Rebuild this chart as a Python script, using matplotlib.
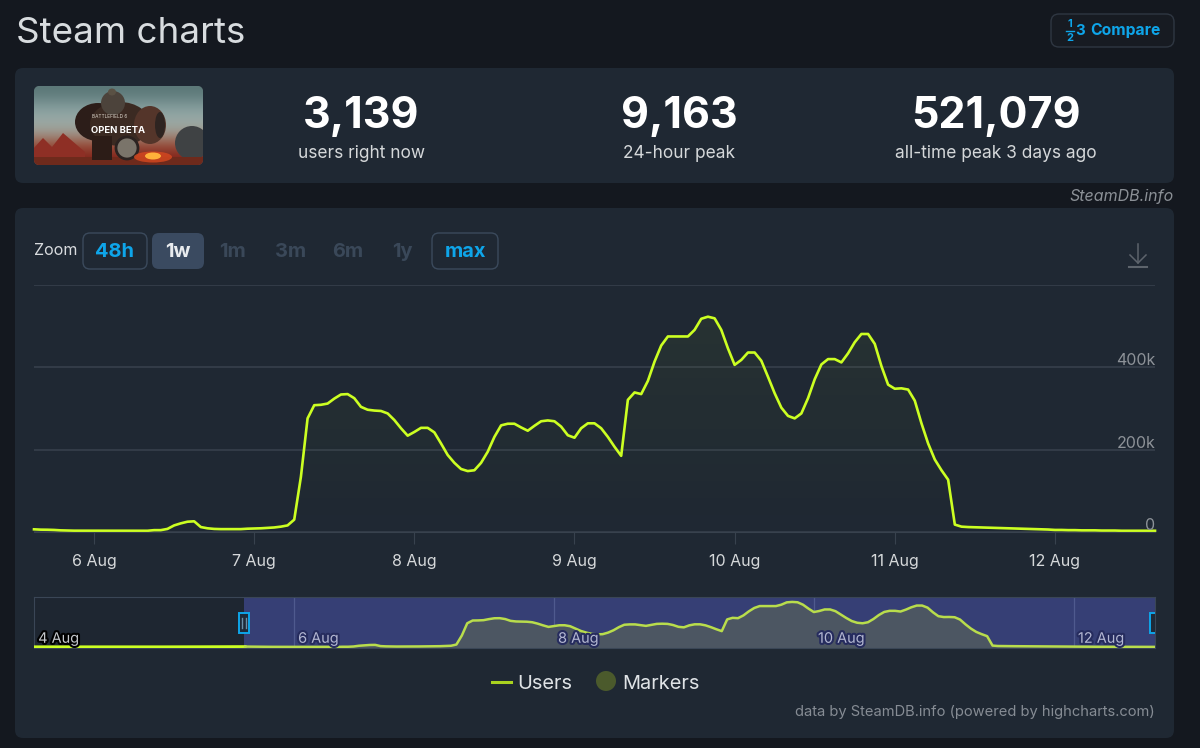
import numpy as np
import matplotlib
matplotlib.use('Agg')
import matplotlib.pyplot as plt
import matplotlib.patheffects as pe
from matplotlib.colors import to_rgb
from matplotlib.patches import FancyBboxPatch, Rectangle, Polygon, Ellipse, Circle

plt.rcParams['font.family'] = ['Inter', 'DejaVu Sans']

# users in thousands, one value per hour, first hour is 9 hours before 6 Aug
first_hour = -9
users = [6.5, 5.7, 5.5, 5, 4, 3.5, 3.2, 3.2, 3.2, 3.2, 3.2, 3.2, 3.2, 3.2, 3, 3, 3, 3,
         4.5, 4.5, 7.5, 16, 21, 25, 26, 12, 9, 7.5, 7, 7, 7, 7, 8, 8.5, 9, 10, 11, 13, 16, 30,
         134, 276, 308, 309, 312, 324, 334, 335, 325, 304, 297, 295, 294, 288, 272, 252, 234,
         243, 253, 253, 242, 215, 187, 168, 153, 148, 150, 168, 195, 231, 259, 263, 263, 254,
         246, 258, 269, 271, 269, 256, 235, 229, 252, 264, 264, 252, 231, 207, 185, 321, 339,
         335, 367, 414, 453, 475, 475, 475, 475, 491, 518, 523, 519, 491, 446, 406, 418, 436,
         436, 416, 377, 337, 302, 282, 276, 288, 325, 371, 407, 420, 420, 412, 434, 461, 481,
         481, 457, 403, 358, 348, 349, 346, 319, 264, 215, 176, 150, 127, 18, 13, 12, 11.5, 11,
         10.5, 10, 9.5, 9, 8.5, 8, 7.5, 7, 6.5, 6, 5, 5, 4.5, 4.5, 4, 4, 4, 3.5, 3.5, 3.5, 3,
         3, 3, 3, 3, 3]
# the navigator also shows the days before the zoomed range
early_days = [4.0, 4.5, 5.0, 5.3]
early_users = [4, 4, 4, 5]

day_ticks = [6, 7, 8, 9, 10, 11, 12]
day_labels = ['6 Aug', '7 Aug', '8 Aug', '9 Aug', '10 Aug', '11 Aug', '12 Aug']
y_ticks = [0, 200, 400, 600]
y_labels = {0: '0', 200: '200k', 400: '400k'}
nav_ticks = [4, 6, 8, 10, 12]
nav_labels = ['4 Aug', '6 Aug', '8 Aug', '10 Aug', '12 Aug']

stat_values = ['3,139', '9,163', '521,079']
stat_captions = ['users right now', '24-hour peak', 'all-time peak 3 days ago']
stat_x = [361, 679, 996]
zoom_buttons = ['1m', '3m', '6m', '1y']
zoom_x = [233, 291, 348, 402]

BG = '#14181f'
CARD = '#1f2833'
BLUE = '#0ea5e9'
LIME = '#ccff22'
GRID = '#38424e'
W, H = 1200, 748

days = 6 + (first_hour + np.arange(len(users))) / 24

fig = plt.figure(figsize=(12, 7.48), dpi=100, facecolor=BG)


def px_axes(x0, y0, x1, y1):
    return fig.add_axes([x0 / W, 1 - y1 / H, (x1 - x0) / W, (y1 - y0) / H])


def box(x0, y0, x1, y1, r=8, **kw):
    p = FancyBboxPatch((x0 + r, y0 + r), x1 - x0 - 2 * r, y1 - y0 - 2 * r,
                       boxstyle='round,pad=%d,rounding_size=%d' % (r, r), **kw)
    page.add_patch(p)
    return p


def px(size):
    return size * 0.72


# page layer in pixel coordinates
page = fig.add_axes([0, 0, 1, 1])
page.set_xlim(0, W)
page.set_ylim(H, 0)
page.axis('off')

page.text(16, 33, 'Steam charts', color='#d8dcdf', fontsize=px(36.8), va='center')
box(1051, 14, 1174, 47, lw=1, fc='#171b22', ec='#2f3742')
page.text(1090, 30.5, 'Compare', color=BLUE, fontsize=px(15.7), va='center', fontweight='bold')
page.text(1070, 23.5, '1', color=BLUE, fontsize=px(11), ha='center', va='center', fontweight='bold')
page.text(1070, 37.5, '2', color=BLUE, fontsize=px(11), ha='center', va='center', fontweight='bold')
page.text(1080.5, 30.5, '3', color=BLUE, fontsize=px(15), ha='center', va='center', fontweight='bold')
page.plot([1066, 1074], [30.5, 30.5], color=BLUE, lw=1)

box(15, 68, 1174, 183, fc=CARD, ec='none')
box(15, 208, 1174, 738, fc=CARD, ec='none')
page.text(1174, 196, 'SteamDB.info', color='#8b9096', fontsize=px(16), ha='right', va='center', style='italic')

# game banner, drawn roughly
clip = box(34, 86, 203, 165, r=6, fc='#5f7a7a', ec='none')
sky = np.array([[0.36, 0.47, 0.47], [0.50, 0.60, 0.60], [0.60, 0.67, 0.66], [0.62, 0.62, 0.58],
                [0.60, 0.30, 0.22], [0.50, 0.13, 0.10]])[:, None, :]
im = page.imshow(sky, extent=(34, 203, 165, 86), aspect='auto', interpolation='bicubic', zorder=2)
im.set_clip_path(clip)
banner = [Polygon([(34, 148), (43, 138), (52, 147), (63, 133), (85, 152), (85, 165), (34, 165)], fc='#8e2f25'),
          Ellipse((192, 143), 34, 34, fc='#3f4244'),
          Rectangle((34, 157), 169, 8, fc='#6e2a1c'),
          Ellipse((98, 122), 46, 38, fc='#2c1d19'),
          Ellipse((120, 124), 60, 44, fc='#3b2a22'),
          Ellipse((113, 103), 24, 24, fc='#4c433b'),
          Ellipse((112, 92), 8, 7, fc='#5a5144'),
          Ellipse((150, 125), 32, 38, fc='#54352a'),
          Ellipse((160, 125), 10, 26, fc='#2e2421'),
          Rectangle((92, 136), 20, 24, fc='#2c1c17'),
          Circle((127, 148), 11, fc='#7a746a', ec='#2b2220', lw=2),
          Ellipse((153, 157), 38, 11, fc='#d8491f', alpha=0.8),
          Ellipse((153, 156), 16, 7, fc='#ffb13a')]
for p in banner:
    p.set_zorder(3)
    page.add_patch(p)
    p.set_clip_path(clip)
page.text(110, 116, 'BATTLEFIELD 6', color='#d8d2c8', fontsize=px(4.8), ha='center', va='center', zorder=4)
page.text(118, 130, 'OPEN BETA', color='white', fontsize=px(9.5), ha='center', va='center', zorder=4, fontweight='bold')
page.set_xlim(0, W)
page.set_ylim(H, 0)

for v, c, x in zip(stat_values, stat_captions, stat_x):
    page.text(x, 116, v, color='white', fontsize=px(43), ha='center', va='center', fontweight='bold')
    page.text(x, 153, c, color='#d5d8da', fontsize=px(17.3), ha='center', va='center')

# zoom buttons
page.text(34, 250, 'Zoom', color='#d8dbde', fontsize=px(16), va='center')
box(83, 233, 147, 269, r=7, lw=1, fc=CARD, ec='#3b4a5c')
box(152, 233, 204, 269, r=7, fc='#3a4a60', ec='none')
box(432, 233, 498, 269, r=7, lw=1, fc=CARD, ec='#3b4a5c')
page.text(115, 251.5, '48h', color=BLUE, fontsize=px(20), ha='center', va='center', fontweight='bold')
page.text(178, 251.5, '1w', color='#e8ebee', fontsize=px(20), ha='center', va='center', fontweight='bold')
page.text(465, 251.5, 'max', color=BLUE, fontsize=px(20), ha='center', va='center', fontweight='bold')
for lab, x in zip(zoom_buttons, zoom_x):
    page.text(x, 251.5, lab, color='#3a4859', fontsize=px(20), ha='center', va='center', fontweight='bold')

# download icon
page.plot([1138, 1138], [244, 263], color='#5d646c', lw=1.1)
page.plot([1130, 1138, 1146], [255, 263, 255], color='#5d646c', lw=1.1)
page.plot([1129, 1147], [267, 267], color='#5d646c', lw=1.5)

# main chart
ax = px_axes(34, 285, 1155, 532)
ax.patch.set_alpha(0)
ax.set_xlim(days[0], days[-1])
ax.set_ylim(0, 600)
for s in ax.spines.values():
    s.set_visible(False)
ax.spines['bottom'].set_visible(True)
ax.spines['bottom'].set_color(GRID)
ax.set_xticks(day_ticks)
ax.set_xticklabels(day_labels)
ax.tick_params(axis='x', length=8.5, width=0.8, color=GRID, labelcolor='#d5d8da', labelsize=px(16), pad=7.5)
ax.set_yticks(y_ticks)
ax.set_yticklabels([])
ax.tick_params(axis='y', length=0)
ax.grid(axis='y', color=GRID, lw=1.1)
ax.set_axisbelow(True)
# area under the line fades out towards the axis
area = ax.fill_between(days, users, color='none', lw=0)
fade = np.zeros((64, 1, 4))
fade[:, :, :3] = to_rgb(LIME)
fade[:, 0, 3] = np.linspace(0.05, 0.0, 64)
shade = ax.imshow(fade, extent=(days[0], days[-1], 0, 530), origin='upper', aspect='auto', zorder=1.5)
shade.set_clip_path(area.get_paths()[0], ax.transData)
ax.set_xlim(days[0], days[-1])
ax.set_ylim(0, 600)
ax.plot(days, users, color=LIME, lw=1.9, clip_on=False, solid_joinstyle='round')
for v, lab in y_labels.items():
    ax.annotate(lab, (1, v), xycoords=('axes fraction', 'data'), xytext=(0, -0.8), textcoords='offset points',
                color='#8d9298', fontsize=px(16), ha='right', va='bottom')

# navigator
nav = px_axes(34, 597, 1155, 648)
nav.set_xlim(4, days[-1])
nav.set_ylim(-10, 580)
nav.set_facecolor('#1e2631')
for s in nav.spines.values():
    s.set_color('#3a4656')
    s.set_linewidth(0.8)
nav.set_xticks([])
nav.set_yticks([])
nav.axvspan(5.615, days[-1], color='#363f75', lw=0, zorder=1)
for t in nav_ticks[1:]:
    nav.axvline(t, color='#4f5a8e', lw=0.9, zorder=1.5)
nav.fill_between(days, users, -10, color='#4c5662', lw=0, zorder=2)
nav.plot(early_days + [days[0]], early_users + [users[0]], color=LIME, lw=2, zorder=3)
nav.plot(days, users, color='#b9dd4c', lw=1.8, zorder=3)
for t, lab in zip(nav_ticks, nav_labels):
    edge = 'black' if t == 4 else '#262c5e'
    col = '#c4c7cb' if t == 4 else '#b3b7d2'
    nav.annotate(lab, (t, 0), xytext=(3, 6), textcoords='offset points', color=col, fontsize=px(14.5),
                 ha='left', va='center', zorder=5, path_effects=[pe.withStroke(linewidth=3, foreground=edge)])
nav.add_patch(Rectangle((5.578, 165), 0.075, 230, fc='#1e2a38', ec=BLUE, lw=1.4, zorder=6, clip_on=False))
nav.plot([5.603, 5.603], [220, 340], color='#6b8fa8', lw=1, zorder=7)
nav.plot([5.628, 5.628], [220, 340], color='#6b8fa8', lw=1, zorder=7)
nav.add_patch(Rectangle((12.585, 165), 0.08, 230, fc='#1e2a38', ec=BLUE, lw=1.4, zorder=6))

# legend and credit
page.plot([492, 511], [682, 682], color='#a9d21f', lw=2.2)
page.text(517, 684, 'Users', color='#dfe3e6', fontsize=px(20), va='center')
page.add_patch(Circle((606, 681), 10, fc='#4b5a2c', ec='none'))
page.text(622, 684, 'Markers', color='#dfe3e6', fontsize=px(20), va='center')
page.text(1155, 712, 'data by SteamDB.info (powered by highcharts.com)', color='#868c94',
          fontsize=px(14.7), ha='right', va='center')

fig.savefig('out.png', dpi=100, facecolor=BG)
